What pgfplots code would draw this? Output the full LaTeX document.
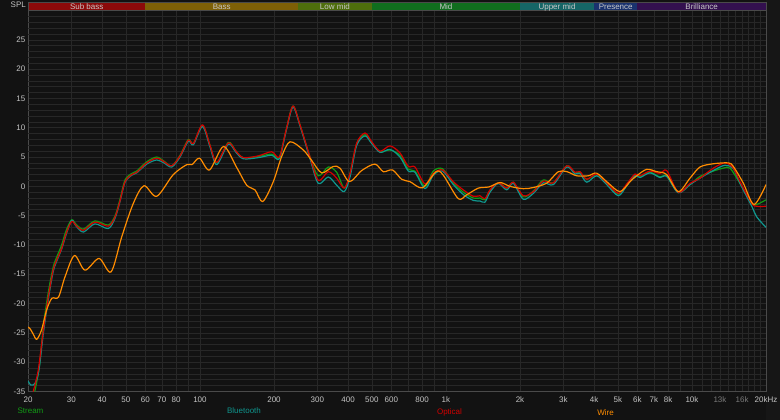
\documentclass[border=0pt]{standalone}
\usepackage{fontspec}
\setmainfont{Liberation Sans}
\usepackage{pgfplots}
\pgfplotsset{compat=1.18}
\definecolor{bg}{HTML}{121212}
\definecolor{rstrip}{HTML}{161616}
\definecolor{gridc}{HTML}{272727}
\definecolor{gridmaj}{HTML}{4E4E4E}
\definecolor{gridfaint}{HTML}{171717}
\definecolor{axisc}{HTML}{4A4A4A}
\definecolor{tickc}{HTML}{C4C4C4}
\definecolor{tickdim}{HTML}{7A7A7A}
\definecolor{bandtext}{HTML}{C8C8C8}
\definecolor{bSub}{HTML}{8C0A0A}
\definecolor{bBass}{HTML}{7E6006}
\definecolor{bLow}{HTML}{4E6E0C}
\definecolor{bMid}{HTML}{106E1E}
\definecolor{bUp}{HTML}{156566}
\definecolor{bPres}{HTML}{1A326E}
\definecolor{bBril}{HTML}{33104F}
\definecolor{cStream}{HTML}{119C14}
\definecolor{cBT}{HTML}{0F968E}
\definecolor{cOpt}{HTML}{D20000}
\definecolor{cWire}{HTML}{FF8C00}
\begin{document}
\begin{tikzpicture}
\fill[bg] (0pt,0pt) rectangle (780pt,420pt);
\fill[rstrip] (766pt,0pt) rectangle (780pt,420pt);
\begin{axis}[
  at={(28pt,28.5pt)}, anchor=south west,
  scale only axis, width=738pt, height=381pt,
  xmode=log, xmin=20, xmax=20000, ymin=-35, ymax=30,
  clip mode=individual,
  axis line style={draw=axisc, line width=0.6pt},
  major tick length=0pt, minor tick length=0pt,
  tick style={draw=none},
  xtick={20,30,40,50,60,70,80,100,200,300,400,500,600,800,1000,2000,3000,4000,5000,6000,7000,8000,10000,13000,16000,20000},
  xticklabels={20,30,40,50,60,70,80,100,200,300,400,500,600,800,1k,2k,3k,4k,5k,6k,7k,8k,10k,\textcolor{tickdim}{13k},\textcolor{tickdim}{16k},20kHz},
  minor xtick={90,700,900,9000,11000,12000,14000,15000,17000,18000,19000},
  extra x ticks={100,1000,10000}, extra x tick labels={},
  extra x tick style={grid style={draw=gridmaj, line width=0.7pt}},
  ytick={-35,-30,-25,-20,-15,-10,-5,0,5,10,15,20,25},
  yticklabels={-35,-30,-25,-20,-15,-10,-5,0,5,10,15,20,25},
  extra y ticks={-34,-33,-32,-31,-29,-28,-27,-26,-24,-23,-22,-21,-19,-18,-17,-16,-14,-13,-12,-11,-9,-8,-7,-6,-4,-3,-2,-1,1,2,3,4,6,7,8,9,11,12,13,14,16,17,18,19,21,22,23,24,26,27,28,29},
  extra y tick labels={},
  extra y tick style={grid style={draw=gridfaint, line width=0.6pt}},
  xmajorgrids, xminorgrids, ymajorgrids,
  major grid style={draw=gridc, line width=0.6pt},
  minor grid style={draw=gridc, line width=0.6pt},
  xticklabel style={font=\fontsize{8}{9}\selectfont, text=tickc, inner sep=0pt, anchor=north, yshift=-5pt},
  yticklabel style={font=\fontsize{8}{9}\selectfont, text=tickc, inner sep=0pt, anchor=east, xshift=-2.5pt},
  every axis plot/.append style={line width=1.2pt, smooth, tension=0.5, line join=round},
]
% frequency bands
\fill[bSub]  (axis cs:20,30)   rectangle (axis cs:60,31.45);
\fill[bBass] (axis cs:60,30)   rectangle (axis cs:250,31.45);
\fill[bLow]  (axis cs:250,30)  rectangle (axis cs:500,31.45);
\fill[bMid]  (axis cs:500,30)  rectangle (axis cs:2000,31.45);
\fill[bUp]   (axis cs:2000,30) rectangle (axis cs:4000,31.45);
\fill[bPres] (axis cs:4000,30) rectangle (axis cs:6000,31.45);
\fill[bBril] (axis cs:6000,30) rectangle (axis cs:20000,31.45);
\draw[axisc, line width=0.6pt] (axis cs:20,30) rectangle (axis cs:20000,31.45);
\begin{scope}[every node/.style={font=\fontsize{8}{9}\selectfont, text=bandtext, anchor=base, inner sep=0pt}]
\node at (axis cs:34.64,30.22) {Sub bass};
\node at (axis cs:122.5,30.22) {Bass};
\node at (axis cs:353.6,30.22) {Low mid};
\node at (axis cs:1000,30.22) {Mid};
\node at (axis cs:2828,30.22) {Upper mid};
\node at (axis cs:4899,30.22) {Presence};
\node at (axis cs:10954,30.22) {Brilliance};
\end{scope}
% Stream
\addplot[cStream] coordinates {(21.3,-35)(22.2,-31)(23.1,-23.8)(24.2,-18.0)(25.3,-13.8)(26.2,-12.0)(27.4,-10.0)(28.6,-7.5)(30.1,-5.7)(31.4,-6.5)(33.6,-7.3)(37.4,-5.9)(42.4,-6.6)(45.2,-5.0)(47.3,-2.2)(49.6,1.1)(52.8,2.2)(55.3,2.6)(60.8,4.2)(66.7,5.0)(71.4,4.3)(76.8,3.5)(83.0,5.3)(89.7,8.0)(94.0,7.3)(102.4,10.4)(109.9,7.0)(117.0,4.0)(130.4,7.5)(140.1,6.0)(150.1,4.9)(172.7,5.1)(195.7,5.5)(210.2,4.9)(223.7,9.5)(238.7,13.7)(255.1,10.5)(280.2,5.0)(302.8,1.8)(332.5,3.3)(359.6,2.4)(386.2,-0.3)(407.4,2.2)(433.8,7.3)(468.9,8.8)(499.2,7.4)(539.7,5.9)(592.4,6.2)(650.4,5.3)(703.0,2.9)(748.5,2.6)(822.2,0.0)(888.4,2.6)(968.3,3.0)(1071,0.6)(1176,-1.0)(1292,-2.0)(1375,-2.0)(1441,-2.3)(1510,-0.7)(1632,0.6)(1766,-0.3)(1879,0.7)(2063,-1.8)(2265,-0.8)(2488,1.1)(2732,0.6)(3097,3.5)(3346,2.3)(3507,2.4)(3734,1.2)(4101,2.0)(4503,0.5)(5019,-1.3)(5429,0.3)(5868,2.0)(6149,1.7)(6752,2.4)(7416,1.6)(7896,1.8)(8800,-1.0)(9820,0.3)(10784,1.7)(12210,2.6)(13410,3.1)(14280,3.1)(15680,0.5)(17502,-2.9)(18330,-3.1)(20000,-2.3)};
% Bluetooth
\addplot[cBT] coordinates {(20,-33.2)(20.5,-33.9)(21.0,-33.9)(21.7,-33.0)(22.3,-30.5)(23.1,-25.0)(24.2,-19.2)(25.3,-14.6)(26.2,-12.7)(27.4,-10.7)(28.6,-8.2)(30.1,-5.8)(31.4,-6.8)(33.6,-7.8)(37.4,-6.4)(42.4,-7.2)(45.2,-5.4)(47.3,-2.6)(49.6,0.7)(52.8,1.9)(55.3,2.3)(60.8,3.8)(66.7,4.5)(71.4,4.0)(76.8,3.3)(83.0,5.0)(89.7,7.7)(94.0,7.1)(102.4,10.2)(109.9,6.7)(117.0,3.7)(130.4,7.2)(140.1,5.8)(150.1,4.7)(172.7,4.9)(195.7,5.3)(210.2,4.7)(223.7,9.3)(238.7,13.5)(255.1,10.3)(280.2,4.7)(302.8,0.5)(332.5,1.6)(359.6,0.2)(386.2,-0.9)(407.4,1.6)(433.8,7.0)(468.9,8.6)(499.2,7.3)(539.7,5.8)(592.4,6.3)(650.4,5.0)(703.0,2.6)(748.5,2.4)(822.2,-0.4)(888.4,1.9)(968.3,2.6)(1071,0.3)(1176,-1.4)(1292,-2.4)(1375,-2.5)(1441,-2.7)(1510,-1.0)(1632,0.5)(1766,-0.6)(1879,0.5)(2063,-2.2)(2265,-1.2)(2488,0.6)(2732,0.3)(3097,3.3)(3346,2.1)(3507,2.2)(3734,0.7)(4101,1.8)(4503,0.3)(5019,-1.6)(5429,0.1)(5868,1.8)(6149,1.5)(6752,2.3)(7416,1.5)(7896,1.7)(8800,-1.1)(9820,0.3)(10784,1.4)(12210,2.7)(13627,3.6)(14727,3.0)(15680,0.5)(17502,-3.4)(18330,-5.2)(20000,-7.0)};
% Optical
\addplot[cOpt] coordinates {(21.0,-35)(22.0,-31.4)(23.1,-24.5)(24.2,-18.8)(25.3,-14.3)(26.2,-12.5)(27.4,-10.6)(28.6,-8.0)(30.1,-6.0)(31.4,-6.7)(33.6,-7.5)(37.4,-6.1)(42.4,-6.8)(45.2,-5.2)(47.3,-2.5)(49.6,0.8)(52.8,2.0)(55.3,2.4)(60.8,4.0)(66.7,4.8)(71.4,4.2)(76.8,3.5)(83.0,5.2)(89.7,7.9)(94.0,7.3)(102.4,10.5)(109.9,7.0)(117.0,4.1)(130.4,7.4)(140.1,6.0)(150.1,4.9)(172.7,5.2)(195.7,5.9)(210.2,5.0)(223.7,9.5)(238.7,13.7)(255.1,10.5)(280.2,5.0)(302.8,1.0)(332.5,2.5)(359.6,1.4)(386.2,-0.3)(407.4,2.2)(433.8,7.4)(468.9,9.1)(499.2,7.6)(539.7,6.0)(592.4,6.9)(650.4,5.7)(703.0,3.4)(748.5,3.3)(822.2,0.4)(888.4,2.2)(968.3,2.8)(1071,0.8)(1176,-0.6)(1292,-1.7)(1375,-1.6)(1441,-2.1)(1510,-0.6)(1632,0.6)(1766,-0.3)(1879,0.7)(2063,-1.6)(2265,-0.9)(2488,0.9)(2732,0.6)(3097,3.5)(3346,2.4)(3507,2.5)(3734,1.2)(4101,2.1)(4503,0.6)(5019,-1.2)(5429,0.4)(5868,2.1)(6149,1.8)(6752,2.6)(7416,2.2)(7896,2.7)(8800,-1.0)(9820,0.5)(10784,1.4)(12210,3.1)(13627,4.0)(14727,3.1)(15680,0.8)(17502,-2.9)(18330,-3.4)(20000,-3.4)};
% Wire
\addplot[cWire] coordinates {(20,-24.0)(20.4,-24.3)(21.0,-25.2)(21.7,-26.1)(22.7,-24.5)(23.8,-21.1)(25.0,-19.1)(26.6,-18.9)(28.3,-15.4)(30.9,-11.8)(34.1,-14.3)(38.9,-12.3)(43.5,-14.6)(48.1,-8.6)(53.6,-2.9)(59.2,0.1)(66.7,-1.7)(77.9,2.0)(88.4,3.7)(92.8,3.7)(99.6,4.8)(109.4,2.8)(124.7,6.8)(141.1,3.2)(154.9,0.2)(167.4,-0.6)(179.9,-2.6)(198.7,0.8)(214.9,5.1)(232.3,7.6)(263.1,6.2)(284.7,4.4)(312.6,2.3)(348.4,3.4)(371.0,3.1)(405.5,0.8)(454.6,2.7)(514.6,3.8)(556.5,2.5)(606.4,2.8)(661.0,1.2)(714.3,0.8)(803.2,-0.25)(911.2,2.5)(975.5,1.9)(1122,-2.1)(1214,-1.45)(1354,-0.3)(1496,-0.1)(1659,0.65)(1821,0.0)(2063,-0.4)(2265,-0.2)(2568,0.55)(2863,2.5)(3105,2.5)(3400,1.8)(3791,1.8)(4101,2.25)(4571,0.55)(5100,-0.9)(5600,0.8)(5963,1.8)(6547,2.9)(7191,2.5)(7896,2.0)(8800,-0.9)(9820,1.4)(10784,3.3)(12210,3.85)(14060,4.0)(14727,3.4)(16170,0.55)(17880,-3.1)(20000,0.3)};
\end{axis}
\begin{scope}[every node/.style={font=\fontsize{8}{9}\selectfont, inner sep=0pt}]
\node[anchor=base east, text=tickc] at (26pt,412.5pt) {SPL};
\node[anchor=base, text=cStream] at (30.5pt,6pt) {Stream};
\node[anchor=base, text=cBT] at (244pt,6pt) {Bluetooth};
\node[anchor=base, text=cOpt] at (449.5pt,5.5pt) {Optical};
\node[anchor=base, text=cWire] at (605.5pt,4.7pt) {Wire};
\end{scope}
\end{tikzpicture}
\end{document}
